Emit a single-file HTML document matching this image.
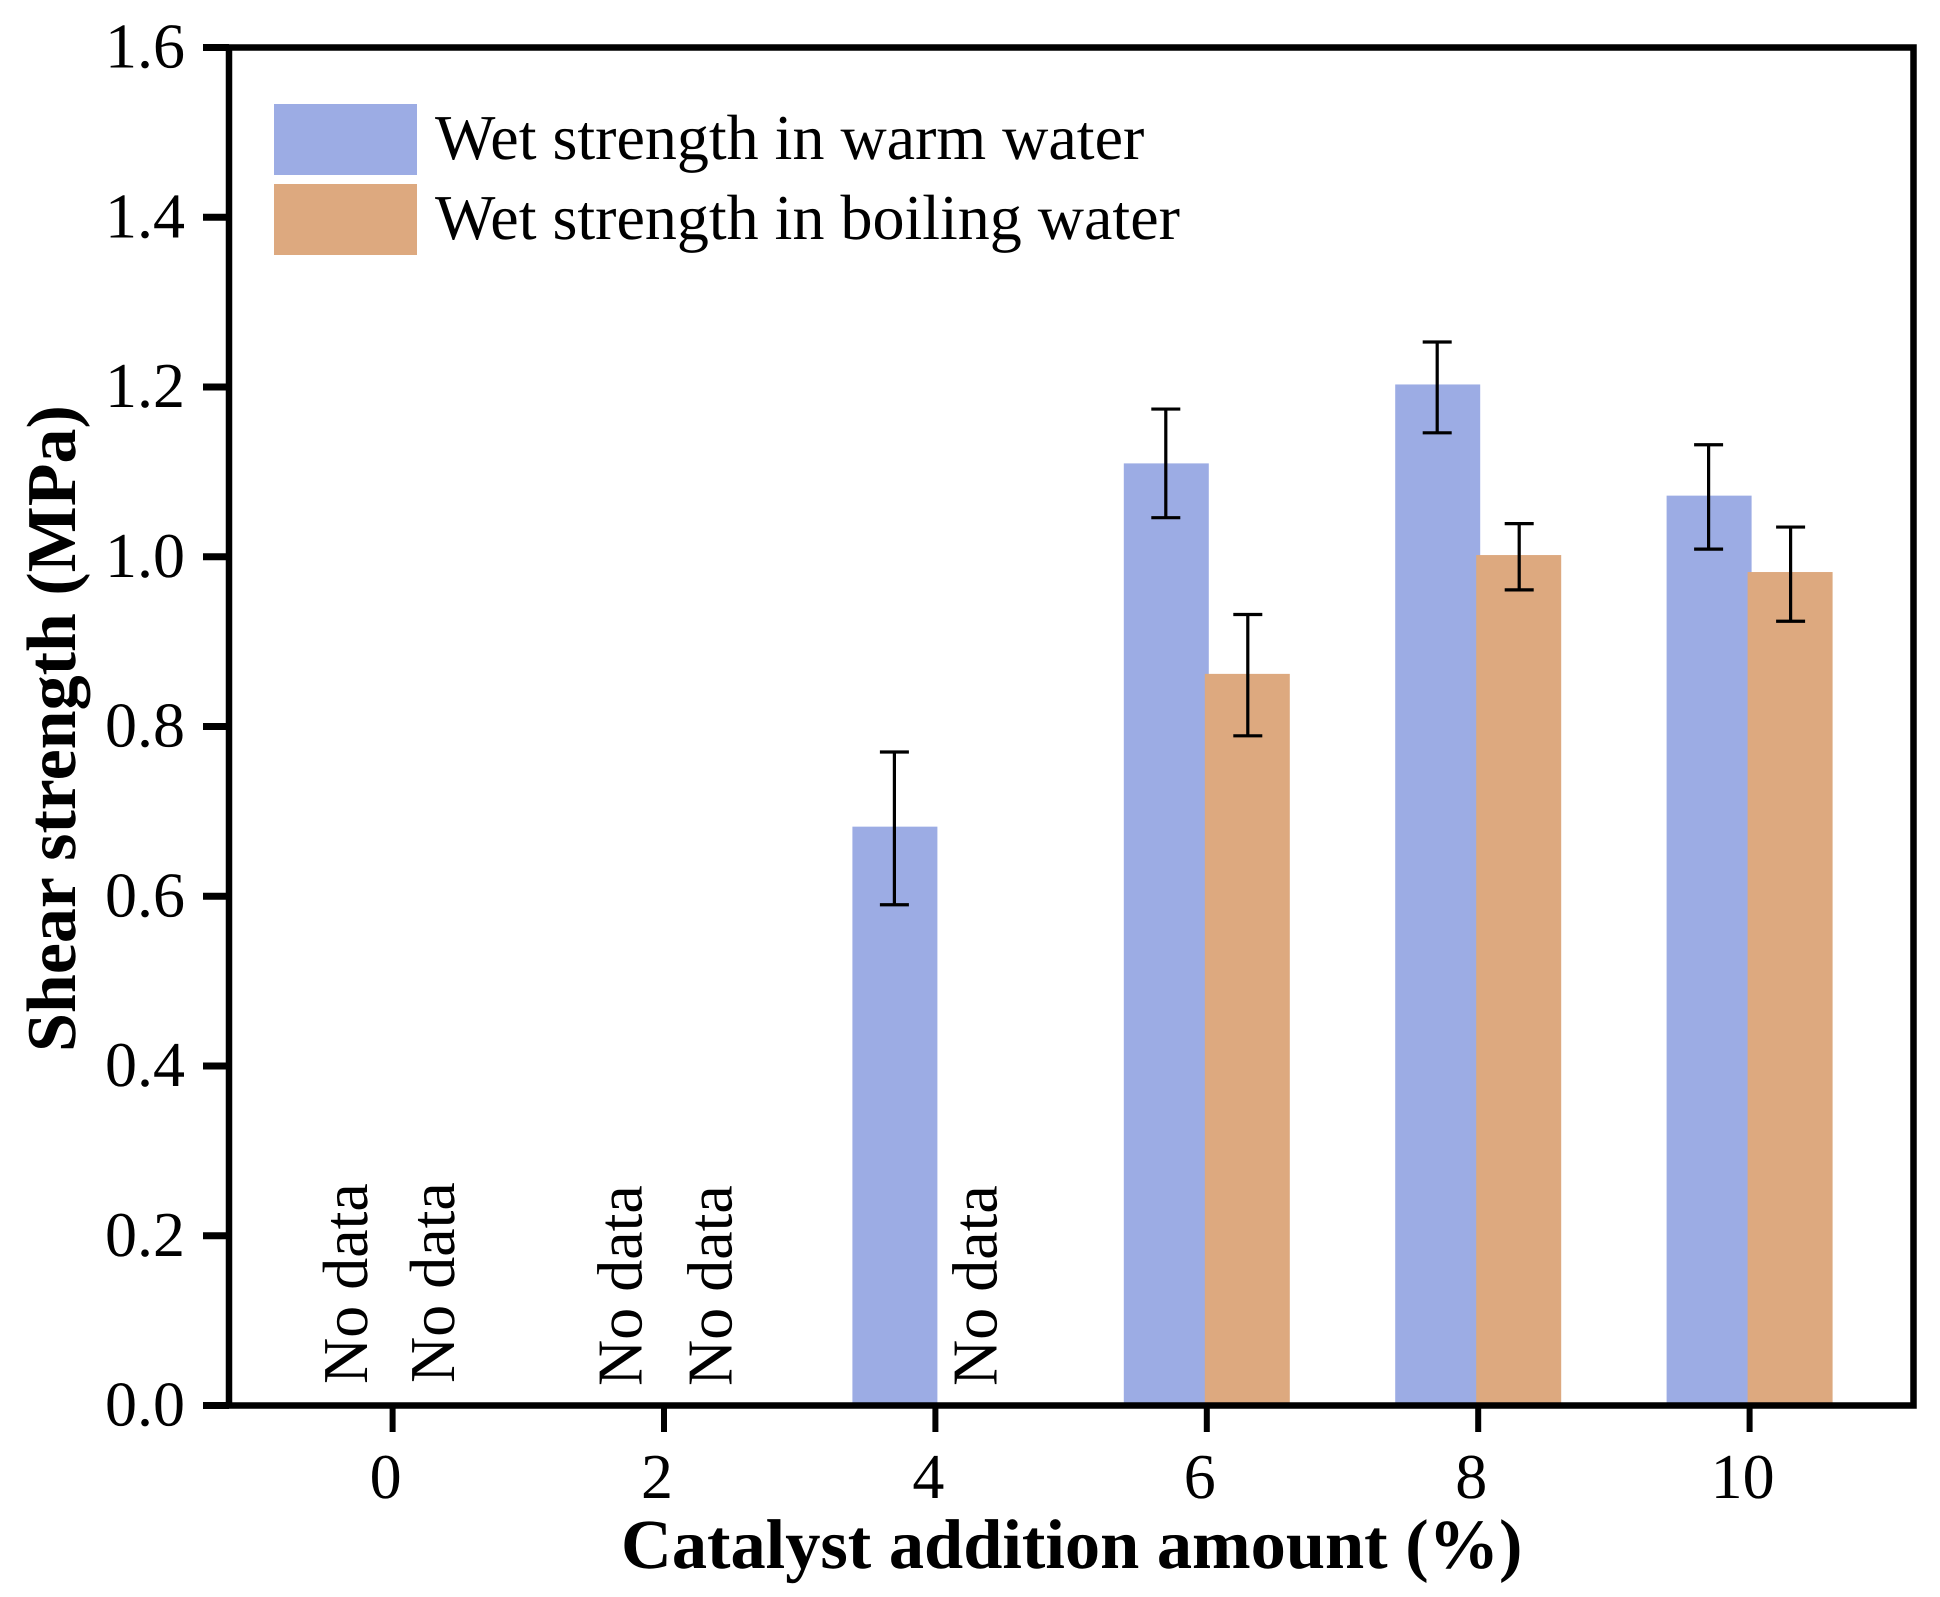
<!DOCTYPE html>
<html lang="en">
<head>
<meta charset="utf-8">
<title>Shear strength vs catalyst addition amount</title>
<style>
html,body{margin:0;padding:0;background:#fff;}
svg{display:block;}
text{font-family:"Liberation Serif","Times New Roman",serif;fill:#000;text-rendering:geometricPrecision;}
</style>
</head>
<body>
<svg id="chart" xmlns="http://www.w3.org/2000/svg" width="1940" height="1597" viewBox="0 0 1940 1597">
  <rect x="0" y="0" width="1940" height="1597" fill="#ffffff"/>
  <g id="bars"></g>
  <g id="errors"></g>
  <rect x="229" y="47.5" width="1684.5" height="1358" fill="none" stroke="#000" stroke-width="6.5"/>
  <g id="y-axis"></g>
  <g id="x-axis"></g>
  <g font-size="64">
    <text transform="translate(367,1384) rotate(-90)">No data</text>
    <text transform="translate(454,1383) rotate(-90)">No data</text>
    <text transform="translate(641.5,1386) rotate(-90)">No data</text>
    <text transform="translate(731.5,1386) rotate(-90)">No data</text>
    <text transform="translate(996.5,1386) rotate(-90)">No data</text>
  </g>
  <g>
    <rect x="274" y="104" width="143" height="71" fill="#9cace4"/>
    <text x="435" y="159" font-size="64">Wet strength in warm water</text>
    <rect x="274" y="184" width="143" height="71" fill="#dda97f"/>
    <text x="435" y="239" font-size="64">Wet strength in boiling water</text>
  </g>
  <text x="621" y="1568" font-size="70.4" font-weight="bold">Catalyst addition amount (%)</text>
  <text transform="translate(75,1052) rotate(-90)" font-size="70" font-weight="bold">Shear strength (MPa)</text>
</svg>
<script>
const categories = [0, 2, 4, 6, 8, 10];
const warmValues = [null, null, 0.682, 1.11, 1.203, 1.072];
const warmErrorsUp = [null, null, 0.088, 0.064, 0.05, 0.06];
const warmErrorsDown = [null, null, 0.092, 0.064, 0.057, 0.063];
const boilingValues = [null, null, null, 0.862, 1.002, 0.982];
const boilingErrorsUp = [null, null, null, 0.07, 0.037, 0.053];
const boilingErrorsDown = [null, null, null, 0.073, 0.041, 0.058];
const yTickValues = [0, 0.2, 0.4, 0.6, 0.8, 1.0, 1.2, 1.4, 1.6];
const yTickLabels = ["0.0", "0.2", "0.4", "0.6", "0.8", "1.0", "1.2", "1.4", "1.6"];
const xTickLabels = ["0", "2", "4", "6", "8", "10"];

const SVG_NS = "http://www.w3.org/2000/svg";
const yBase = 1405.5, yPerUnit = 1358 / 1.6;
const xBase = 392.6, xPerUnit = 135.7;
function yScale(v) { return yBase - v * yPerUnit; }
function xScale(v) { return xBase + v * xPerUnit; }
function make(tag, parent, attrs) {
  const el = document.createElementNS(SVG_NS, tag);
  for (const k in attrs) el.setAttribute(k, attrs[k]);
  parent.appendChild(el);
  return el;
}

const barsLayer = document.getElementById("bars");
const errorsLayer = document.getElementById("errors");
const yAxis = document.getElementById("y-axis");
const xAxis = document.getElementById("x-axis");

function drawBars(values, left, fill, seriesName) {
  values.forEach(function (v, i) {
    if (v === null) return;
    const tick = xScale(categories[i]);
    const bar = make("rect", barsLayer, { x: tick + left, y: yScale(v), width: 85, height: yBase - yScale(v), fill: fill });
    
    
  });
}
function drawErrors(values, errorsUp, errorsDown, offset, seriesName) {
  values.forEach(function (v, i) {
    if (v === null) return;
    const cx = xScale(categories[i]) + offset;
    const top = yScale(v + errorsUp[i]);
    const bottom = yScale(v - errorsDown[i]);
    const path = make("path", errorsLayer, {
      d: "M" + (cx - 14.5) + " " + top + "H" + (cx + 14.5) + "M" + cx + " " + top + "V" + bottom + "M" + (cx - 14.5) + " " + bottom + "H" + (cx + 14.5),
      fill: "none", stroke: "#000", "stroke-width": 3.2
    });
    
    
  });
}
drawBars(warmValues, -83, "#9cace4", "warm");
drawBars(boilingValues, -2, "#dda97f", "boiling");
drawErrors(warmValues, warmErrorsUp, warmErrorsDown, -41, "warm");
drawErrors(boilingValues, boilingErrorsUp, boilingErrorsDown, 41, "boiling");

yTickValues.forEach(function (v, i) {
  const y = yScale(v);
  const tick = make("line", yAxis, { x1: 203, x2: 229, y1: y, y2: y, stroke: "#000", "stroke-width": 7 });
  
  
  const label = make("text", yAxis, { x: 185, y: y + 20, "font-size": 64, "text-anchor": "end" });
  label.textContent = yTickLabels[i];
  
  
});

categories.forEach(function (c, i) {
  const x = xScale(c);
  const tick = make("line", xAxis, { x1: x, x2: x, y1: 1405.5, y2: 1432, stroke: "#000", "stroke-width": 6 });
  
  
  const label = make("text", xAxis, { x: x - 7, y: 1498, "font-size": 64, "text-anchor": "middle" });
  label.textContent = xTickLabels[i];
  
  
});
</script>
</body>
</html>
